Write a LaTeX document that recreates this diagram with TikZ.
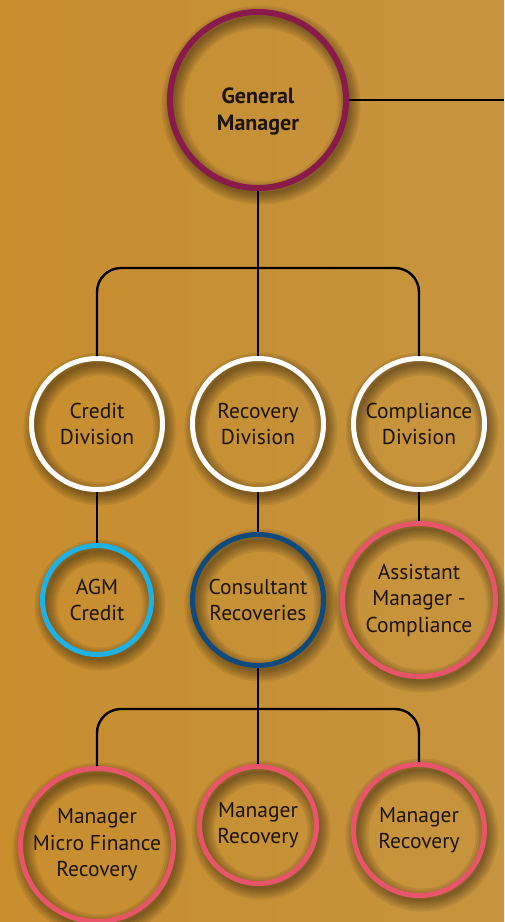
\documentclass[tikz,border=0pt]{standalone}
\usepackage{fontspec}
\setmainfont{PT Sans}
\usetikzlibrary{calc}
\definecolor{bgmid}{HTML}{C69036}
\definecolor{bgdark}{HTML}{C88E2E}
\definecolor{bglight}{HTML}{C7953F}
\definecolor{gmring}{HTML}{8A1A4C}
\definecolor{cyanring}{HTML}{1DB2E3}
\definecolor{navyring}{HTML}{0E4A7C}
\definecolor{pinkring}{HTML}{E8546A}
\definecolor{inktext}{HTML}{1C1408}
\tikzset{
  ring/.style={circle, draw=#1, line width=5pt, inner sep=0pt, align=center,
    text=inktext, font=\fontsize{21.5}{26.5}\selectfont},
  link/.style={draw=black, line width=2.4pt},
}
% soft drop shadow of a ring: stacked translucent rings, offset down-right
\newcommand\ringshade[2]{%
  \foreach \w in {3,7,11,15,19,23}
    \draw[line width=\w pt, draw=black, opacity=0.07] ($(#1)+(3,5)$) circle (#2);}
\begin{document}
\begin{tikzpicture}[x=1pt,y=-1pt]
\useasboundingbox (0,0) rectangle (504,922);
\shade[left color=bgdark, right color=bglight, middle color=bgmid] (0,0) rectangle (504,922);

% centres
\coordinate (pgm) at (258,100);
\coordinate (pcd) at (97,424);
\coordinate (prd) at (258,424);
\coordinate (ppd) at (419,424);
\coordinate (pagm) at (97,600);
\coordinate (pcr) at (258,600);
\coordinate (pam) at (419,600);
\coordinate (pmf) at (97,845);
\coordinate (pm2) at (258,825);
\coordinate (pm3) at (419,830);

% shadows
\ringshade{pgm}{88}
\ringshade{pcd}{65}
\ringshade{prd}{65}
\ringshade{ppd}{65}
\ringshade{pagm}{54}
\ringshade{pcr}{65}
\ringshade{pam}{76}
\ringshade{pmf}{76}
\ringshade{pm2}{58}
\ringshade{pm3}{65}

% rings
\node[ring=gmring, line width=6pt, minimum size=176pt, font=\fontsize{22}{27}\selectfont\bfseries, text depth=0pt] (gm) at (pgm) {\raisebox{-4pt}{\parbox{120pt}{\centering General\\Manager}}};
\node[ring=white, minimum size=131pt] (cd) at (pcd) {Credit\\Division};
\node[ring=white, minimum size=131pt] (rd) at (prd) {Recovery\\Division};
\node[ring=white, minimum size=131pt] (pd) at (ppd) {Compliance\\Division};
\node[ring=cyanring, minimum size=109pt] (agm) at (pagm) {AGM\\Credit};
\node[ring=navyring, minimum size=131pt] (cr) at (pcr) {Consultant\\Recoveries};
\node[ring=pinkring, minimum size=153pt] (am) at (pam) {Assistant\\Manager -\\Compliance};
\node[ring=pinkring, minimum size=153pt] (mf) at (pmf) {Manager\\Micro Finance\\Recovery};
\node[ring=pinkring, minimum size=117pt] (m2) at (pm2) {Manager\\Recovery};
\node[ring=pinkring, minimum size=131pt] (m3) at (pm3) {Manager\\Recovery};

% connectors
\coordinate (jtop) at (258,268);
\coordinate (jbot) at (258,709);
\coordinate (edge) at (504,100);
\draw[link] (gm.east) -- (edge);
\draw[link] (gm.south) -- (rd.north);
\draw[link, rounded corners=24pt] (cd.north) |- (jtop) -| (pd.north);
\draw[link] (cd.south) -- (agm.north);
\draw[link] (rd.south) -- (cr.north);
\draw[link] (pd.south) -- (am.north);
\draw[link] (cr.south) -- (m2.north);
\draw[link, rounded corners=24pt] (mf.north) |- (jbot) -| (m3.north);
\end{tikzpicture}
\end{document}
